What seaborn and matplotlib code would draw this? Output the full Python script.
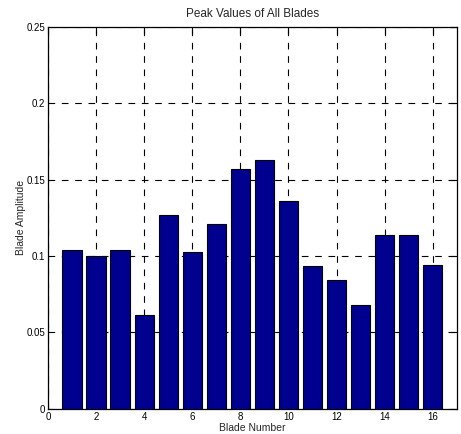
import numpy as np
import pandas as pd
import matplotlib
matplotlib.use("Agg")
import matplotlib.pyplot as plt
import seaborn as sns

# valores
blade_number = list(range(1, 17))
peak_values = [0.104, 0.100, 0.104, 0.0615, 0.127, 0.1025, 0.121, 0.157,
               0.163, 0.136, 0.0935, 0.0845, 0.068, 0.114, 0.114, 0.094]
x_ticks = [0, 2, 4, 6, 8, 10, 12, 14, 16]
y_ticks = [0, 0.05, 0.1, 0.15, 0.2, 0.25]
y_tick_labels = ["0", "0.05", "0.1", "0.15", "0.2", "0.25"]

df = pd.DataFrame({"blade": blade_number, "peak": peak_values})

sns.set_style("white")
plt.rcParams["font.family"] = ["Liberation Sans", "DejaVu Sans"]

fig = plt.figure(figsize=(4.61, 4.34), dpi=100)
ax = fig.add_axes([0.104, 0.058, 0.887, 0.880])

sns.barplot(data=df, x="blade", y="peak", native_scale=True, color="#00008f",
            saturation=1, width=0.8, edgecolor="black", linewidth=0.8, ax=ax, zorder=3)

ax.set_xlim(0, 17)
ax.set_ylim(0, 0.25)
ax.set_xticks(x_ticks)
ax.set_xticklabels([str(t) for t in x_ticks])
ax.set_yticks(y_ticks)
ax.set_yticklabels(y_tick_labels)

ax.set_axisbelow(True)
ax.grid(True, color="black", linestyle=(0, (6, 6)), linewidth=0.8, zorder=0)

for s in ax.spines.values():
    s.set_color("black")
    s.set_linewidth(0.9)

ax.tick_params(direction="in", length=5, width=0.8, labelsize=7,
               top=True, right=True, pad=2, colors="black")

ax.set_title("Peak Values of All Blades", fontsize=8.5, pad=7)
ax.set_xlabel("Blade Number", fontsize=7.5, labelpad=1)
ax.set_ylabel("Blade Amplitude", fontsize=7.5, labelpad=0)

fig.savefig("out.png", dpi=100)
